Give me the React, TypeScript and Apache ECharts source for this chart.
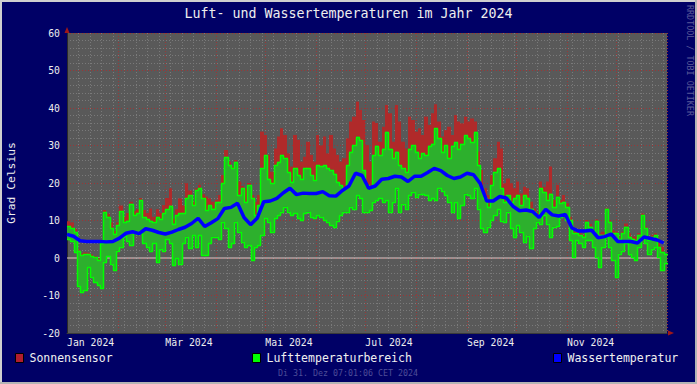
import React, { useEffect, useRef } from "react";
import * as echarts from "echarts";

const YEAR = 2024;
const MONTHS = ["Jan", "Feb", "Mär", "Apr", "Mai", "Jun", "Jul", "Aug", "Sep", "Okt", "Nov", "Dez"];
const MONTH_DAYS = [31, 29, 31, 30, 31, 30, 31, 31, 30, 31, 30, 31];
const LABELED_MONTHS = [0, 2, 4, 6, 8, 10];
const TITLE = "Luft- und Wassertemperaturen im Jahr 2024";
const Y_TITLE = "Grad Celsius";
const WATERMARK = "RRDTOOL / TOBI OETIKER";
const TIMESTAMP = "Di 31. Dez 07:01:06 CET 2024";
const Y_MIN = -20;
const Y_MAX = 60;
const Y_STEP = 10;
const ZERO_LINE = 0;
const AIR_STEP = 2; // days per air / sun sample
const WATER_STEP = 4; // days per water sample

const SERIES_NAMES = ["Sonnensensor", "Lufttemperaturbereich", "Wassertemperatur"];

// air temperature minimum (2-day samples from 1 Jan)
const airMin = [
  5, 4.5, 1.5, -7.5, -9, -8.5, -2.5, -5, -6.5, -7.2,
  -8, -1, 0.5, -1.5, -3.3, 2, 3, 6, 4.5, 3.5,
  7, 6.5, 6.6, 4, 3, 2, 4, -1, 2.5, 2,
  5, 4, -1.9, 0, -1.5, 4, 5.7, 2.6, 6.1, 3,
  6.1, 0.8, 0.8, 3.9, 5.7, 5.7, 5.2, 9.7, 7.9, 3,
  3.9, 9.7, 7, 4.4, 3, 3.5, -0.5, 3, 3.5, 6.1,
  10.6, 9.7, 7, 10.6, 11.5, 12.4, 13.7, 12.4, 11.5, 12,
  10.6, 10.1, 12, 12.4, 11, 10.6, 11.5, 11, 10.1, 9.7,
  8.8, 8.4, 10, 11.5, 12.4, 12.4, 13.7, 13.2, 16.8, 16,
  12.4, 12.4, 12.8, 15, 15.5, 15.9, 15, 15.5, 12.4, 15,
  18.6, 12.4, 14.5, 13.2, 16.8, 17.7, 16.4, 17.2, 17, 16.8,
  15.5, 16, 15.5, 18.6, 18, 16.8, 15, 12.4, 15, 10.6,
  14.1, 17.2, 16.8, 15.9, 18.6, 13.2, 7.9, 7, 8.4, 10.1,
  11.5, 13, 10, 9.7, 12.4, 7.9, 5.7, 8.8, 7, 4.4,
  6, 2.6, 8, 9.7, 9.2, 11.5, 9.2, 5.7, 8.4, 8.5,
  11, 11.9, 10.1, 4.8, 0.4, 4.8, 3.9, 3, 4.8, 4.8,
  3, 0.4, -2.3, 3, 5.7, 3, -0.5, -5, 1.2, 2,
  4, 1.2, 0.4, -0.5, 3, 5.7, 4, 1.2, 2.5, 3,
  0.4, -3.2, -1.4,
];

// air temperature maximum
const airMax = [
  8.5, 8, 7, 2, 0.8, 1, 1, 0.5, 0.2, -0.5,
  4, 12.2, 11, 8, 6.5, 8.8, 12.5, 9.7, 10, 14.5,
  11.5, 12, 15.5, 11, 10.5, 10, 9.5, 11, 10.5, 11.9,
  13, 14, 9.2, 11.5, 12, 12, 15.9, 16.8, 14.1, 18.1,
  18.6, 15.9, 12.8, 14.1, 13.2, 15, 15, 19.9, 27, 24.8,
  23.9, 25.7, 16.8, 18.6, 15, 19.5, 15.9, 11.5, 14.1, 23.9,
  27.5, 21.2, 19.9, 24.8, 25.7, 27.5, 26.6, 23, 20.4, 23.9,
  22.1, 21.2, 23.9, 23.9, 22.1, 20.8, 24.8, 24.5, 24.8, 23.9,
  23.5, 22.5, 20.4, 19.5, 18.6, 24.8, 28.4, 30.1, 32.4, 31.5,
  23.5, 19.5, 18.6, 27.5, 30, 27.5, 29.2, 33.7, 29.2, 26.6,
  28.4, 24.8, 24, 23, 29.2, 30.1, 28.4, 26.6, 28, 27.5,
  30, 30.5, 34.6, 31.9, 28.4, 30.1, 26.6, 30, 31, 29.2,
  30.5, 32.8, 31.9, 31, 33.7, 24.8, 18.6, 15.9, 13.7, 19.5,
  23, 23.9, 18.6, 15, 16.8, 15, 15.9, 16.8, 14.1, 16.8,
  15.9, 13.2, 12.4, 11.5, 18.6, 17.7, 15.5, 17.2, 13.7, 16.4,
  14.6, 15, 13.7, 10.1, 6.6, 6.6, 6.2, 5.7, 9.7, 8.4,
  6.6, 10, 6.2, 6.2, 13.2, 9.7, 6.6, 6.6, 5.2, 6.6,
  8.4, 5.7, 5.2, 4.8, 6.2, 11.5, 7.9, 4.8, 5.7, 6.2,
  3, 1.7, 1.2,
];

// sun sensor maximum
const sunMax = [
  9.8, 9.5, 7.8, 2.3, 1.2, 1.5, 1.4, 1, 0.5, 0,
  4.5, 12.8, 11.8, 9.5, 7.2, 9.5, 14, 11, 12, 15,
  12.5, 13, 16, 12.8, 12, 13.2, 11, 13, 12, 14.1,
  16, 18.6, 10.5, 13, 15.9, 14, 19.9, 18, 15, 18.6,
  19.5, 17, 16.4, 15.9, 15, 15.5, 16.8, 22.1, 28.8, 25.7,
  24.4, 26.1, 20.4, 19.2, 18.6, 20, 16.8, 15, 16.8, 33.7,
  32.8, 27.5, 23, 29.2, 32.4, 34.6, 32.8, 27.9, 24.4, 32.8,
  31.5, 25.7, 27, 31, 27.5, 25.7, 32.8, 30, 32.4, 27.9,
  32.8, 29.2, 27.5, 25.7, 26.6, 31.9, 36.4, 37.7, 41.7, 39.5,
  36.8, 30.1, 25.7, 36.4, 36, 31, 35, 40.8, 38.6, 31,
  40.8, 36.4, 31, 29.2, 37.7, 36.8, 33.7, 34.6, 32.8, 37.7,
  35.5, 38.6, 41, 36.4, 32.4, 34.1, 35, 32.8, 38.1, 36.4,
  35.9, 37.7, 36.4, 37.2, 36.4, 28.4, 23.5, 18.6, 16.8, 22.1,
  26.6, 31, 29.2, 19.9, 21.2, 19.9, 18.6, 20.4, 17.2, 19,
  18.6, 15, 13.2, 12.4, 20.4, 19, 20.4, 24.4, 15.5, 19.5,
  15.5, 16.8, 14.6, 11, 7, 7, 6.6, 6.2, 10.1, 9.1,
  7, 10.3, 6.6, 7, 13.4, 10.1, 7.4, 7, 5.7, 7,
  9.2, 6.6, 5.7, 5.7, 6.6, 11.9, 8.4, 5.7, 6.2, 6.6,
  4.8, 3, 1.2,
];

// water temperature (4-day samples from 1 Jan)
const water = [
  6.3, 5.8, 4.6, 4.4, 4.4, 4.4, 4.3, 4.4, 5.3, 6.6,
  7.0, 6.5, 7.8, 7.4, 6.8, 6.4, 6.9, 7.6, 8.2, 9.2,
  10.6, 8.4, 9.4, 10.5, 13.2, 13.5, 14.6, 10.8, 8.9, 10.6,
  15.0, 15.2, 15.9, 17.4, 18.6, 16.9, 17.3, 17.2, 17.2, 17.7,
  16.6, 16.5, 18.0, 19.2, 22.6, 22.0, 18.6, 19.2, 21.0, 21.2,
  21.8, 21.6, 20.4, 21.8, 21.8, 22.8, 23.9, 23.3, 22.0, 21.2,
  21.6, 22.6, 22.2, 19.9, 15.2, 15.2, 16.4, 16.0, 13.8, 12.6,
  12.8, 12.4, 10.8, 13.0, 11.5, 11.2, 11.6, 8.0, 7.2, 7.2,
  7.4, 5.4, 5.7, 6.4, 4.4, 4.4, 4.4, 4.0, 5.6, 5.2,
  4.8, 4.0,
];

const FONT = '"DejaVu Sans Mono", "Liberation Mono", monospace';
const BG = "#000066";
const PLOT_BG = "#595959";
const RED_FILL = "#b02a2a";
const GREEN_FILL = "#2db02d";
const GREEN_LINE = "#00ff00";
const BLUE = "#0000ff";

function buildCategories() {
  const cats: string[] = [];
  const starts: number[] = [];
  MONTHS.forEach((m, i) => {
    starts.push(cats.length);
    for (let d = 1; d <= MONTH_DAYS[i]; d++) cats.push(`${d}. ${m} ${YEAR}`);
  });
  starts.push(cats.length);
  cats.push(`1. ${MONTHS[0]} ${YEAR + 1}`);
  return { cats, starts };
}

export default function App() {
  const ref = useRef<HTMLDivElement>(null);

  useEffect(() => {
    if (!ref.current) return;
    const chart = echarts.init(ref.current, null, { renderer: "svg" });
    const { cats, starts } = buildCategories();
    const labelIdx = new Set(LABELED_MONTHS.map((m) => starts[m]));
    const monthIdx = new Set(starts);

    const greenData = airMin.map((lo, i) => [i * AIR_STEP, lo, airMax[i]]);
    const redData = airMax.map((hi, i) => [i * AIR_STEP, hi, sunMax[i]]);
    const waterData = water.map((v, i) => [i * WATER_STEP, v]);

    const bandRender = (color: string) => (_p: any, api: any) => {
      const x = api.value(0) as number;
      const a = api.coord([x, api.value(2)]);
      const b = api.coord([x + AIR_STEP, api.value(1)]);
      const x0 = Math.round(a[0]);
      const x1 = Math.round(b[0]);
      const y0 = Math.min(a[1], b[1]);
      const y1 = Math.max(a[1], b[1]);
      return {
        type: "rect",
        shape: { x: x0, y: y0, width: x1 - x0, height: y1 - y0 },
        style: { fill: color },
      };
    };

    // bright step outline along the minimum and maximum of the air band
    const outlineRender = (params: any, api: any) => {
      const i = params.dataIndexInside;
      const n = params.dataInsideLength;
      const x = api.value(0) as number;
      const xl = Math.round(api.coord([x, 0])[0]);
      const xr = Math.round(api.coord([x + AIR_STEP, 0])[0]);
      const py = (v: number) => Math.round(api.coord([x, v])[1]) + 0.5;
      const stroke = { stroke: GREEN_LINE, lineWidth: 1.5, fill: null };
      const children: any[] = [];
      [1, 2].forEach((dim) => {
        const y = py(api.value(dim));
        children.push({ type: "line", shape: { x1: xl, y1: y, x2: xr + 1, y2: y }, style: stroke });
        if (i + 1 < n) {
          const yn = py(api.value(dim, i + 1));
          children.push({ type: "line", shape: { x1: xr + 0.5, y1: y, x2: xr + 0.5, y2: yn }, style: stroke });
        }
      });
      return { type: "group", children };
    };

    const legendCommon = {
      orient: "horizontal",
      itemWidth: 8,
      itemHeight: 9,
      icon: "rect",
      padding: 0,
      selectedMode: false,
      textStyle: { color: "#f0f0f0", fontFamily: FONT, fontSize: 11.5, padding: [0, 0, 0, 1] },
      itemStyle: { borderColor: "#000000", borderWidth: 1 },
    };

    const option: any = {
      animation: false,
      backgroundColor: BG,
      title: {
        text: TITLE,
        left: "center",
        top: 7,
        padding: 0,
        textStyle: { color: "#eeeeee", fontFamily: FONT, fontSize: 13.3, fontWeight: "normal" },
      },
      legend: [
        { ...legendCommon, left: 15, top: 352, data: [{ name: SERIES_NAMES[0], itemStyle: { color: "#b01e2e" } }] },
        { ...legendCommon, left: 252, top: 352, data: [{ name: SERIES_NAMES[1], itemStyle: { color: GREEN_LINE } }] },
        { ...legendCommon, left: 553, top: 352, data: [{ name: SERIES_NAMES[2], itemStyle: { color: BLUE } }] },
      ],
      grid: {
        left: 67,
        top: 33,
        width: 600,
        height: 300,
        show: true,
        backgroundColor: PLOT_BG,
        borderWidth: 0,
        containLabel: false,
        outerBoundsMode: "none",
      },
      xAxis: [
        {
          type: "category",
          data: cats,
          boundaryGap: false,
          axisLine: { show: true, onZero: false, lineStyle: { color: "#3a3a3a", width: 1 } },
          axisTick: { show: false },
          axisLabel: {
            interval: (idx: number) => labelIdx.has(idx),
            formatter: (v: string) => v.split(" ").slice(1).join(" "),
            align: "left",
            margin: 4,
            color: "#eeeeee",
            fontFamily: FONT,
            fontSize: 9.8,
            hideOverlap: false,
          },
          splitLine: {
            show: true,
            interval: (idx: number) => idx % 7 === 0,
            lineStyle: { color: "#7a7a7a", width: 1, type: [1, 2] },
          },
        },
        {
          type: "category",
          data: cats,
          boundaryGap: false,
          position: "bottom",
          axisLine: { show: false, onZero: false },
          axisTick: { show: false },
          axisLabel: { show: false },
          splitLine: {
            show: true,
            interval: (idx: number) => monthIdx.has(idx),
            lineStyle: { color: "#9a3636", width: 1, type: [1, 2] },
          },
        },
      ],
      yAxis: {
        type: "value",
        min: Y_MIN,
        max: Y_MAX,
        interval: Y_STEP,
        axisLine: { show: true, lineStyle: { color: "#2a2a2a" } },
        axisTick: { show: false },
        axisLabel: { color: "#eeeeee", fontFamily: FONT, fontSize: 9.8, margin: 7 },
        splitLine: { show: true, lineStyle: { color: "#9a3636", width: 1, type: [1, 2] } },
        minorTick: { show: false, splitNumber: 5 },
        minorSplitLine: { show: true, lineStyle: { color: "#7a7a7a", width: 1, type: [1, 2] } },
      },
      graphic: [
        { type: "rect", shape: { x: 0, y: 0, width: 697, height: 2 }, style: { fill: "#cfcfcf" }, silent: true },
        { type: "rect", shape: { x: 0, y: 0, width: 2, height: 384 }, style: { fill: "#cfcfcf" }, silent: true },
        { type: "rect", shape: { x: 0, y: 382, width: 697, height: 2 }, style: { fill: "#b4b4b4" }, silent: true },
        { type: "rect", shape: { x: 695, y: 0, width: 2, height: 384 }, style: { fill: "#b4b4b4" }, silent: true },
        { type: "polygon", shape: { points: [[67, 27], [64.5, 33], [69.5, 33]] }, style: { fill: "#a01818" }, silent: true, z: 10 },
        { type: "polygon", shape: { points: [[674, 333], [668, 330.5], [668, 335.5]] }, style: { fill: "#a01818" }, silent: true, z: 10 },
        {
          type: "text", x: 11, y: 183, rotation: Math.PI / 2,
          style: { text: Y_TITLE, fill: "#eeeeee", font: `11.3px ${FONT}`, align: "center", verticalAlign: "middle" },
          silent: true,
        },
        {
          type: "text", x: 689.5, y: 60.5, rotation: -Math.PI / 2,
          style: { text: WATERMARK, fill: "#5a5a98", font: `8.4px ${FONT}`, align: "center", verticalAlign: "middle" },
          silent: true,
        },
        {
          type: "text", x: 348, y: 372.7,
          style: { text: TIMESTAMP, fill: "#4e4e98", font: `8.3px ${FONT}`, align: "center", verticalAlign: "middle" },
          silent: true,
        },
      ],
      series: [
        {
          name: "Null", type: "line",
          data: [[0, ZERO_LINE], [cats.length - 1, ZERO_LINE]],
          symbol: "none", lineStyle: { color: "#dcc8c8", width: 1 }, z: 1, silent: true,
        },
        {
          name: SERIES_NAMES[1], type: "custom", data: greenData,
          encode: { x: 0, y: [1, 2] }, renderItem: bandRender(GREEN_FILL),
          itemStyle: { color: GREEN_LINE }, z: 2, silent: true,
        },
        {
          name: SERIES_NAMES[0], type: "custom", data: redData,
          encode: { x: 0, y: [1, 2] }, renderItem: bandRender(RED_FILL),
          itemStyle: { color: "#b01e2e" }, z: 2, silent: true,
        },
        {
          name: "Luft Umriss", type: "custom", data: greenData,
          encode: { x: 0, y: [1, 2] }, renderItem: outlineRender, z: 3, silent: true,
        },
        {
          name: SERIES_NAMES[2], type: "line", data: waterData, symbol: "none",
          lineStyle: { color: BLUE, width: 3.5 }, itemStyle: { color: BLUE }, z: 4, silent: true,
        },
      ],
    };

    chart.setOption(option);
    return () => chart.dispose();
  }, []);

  return <div ref={ref} style={{ position: "fixed", left: 0, top: 0, width: 697, height: 384 }} />;
}
